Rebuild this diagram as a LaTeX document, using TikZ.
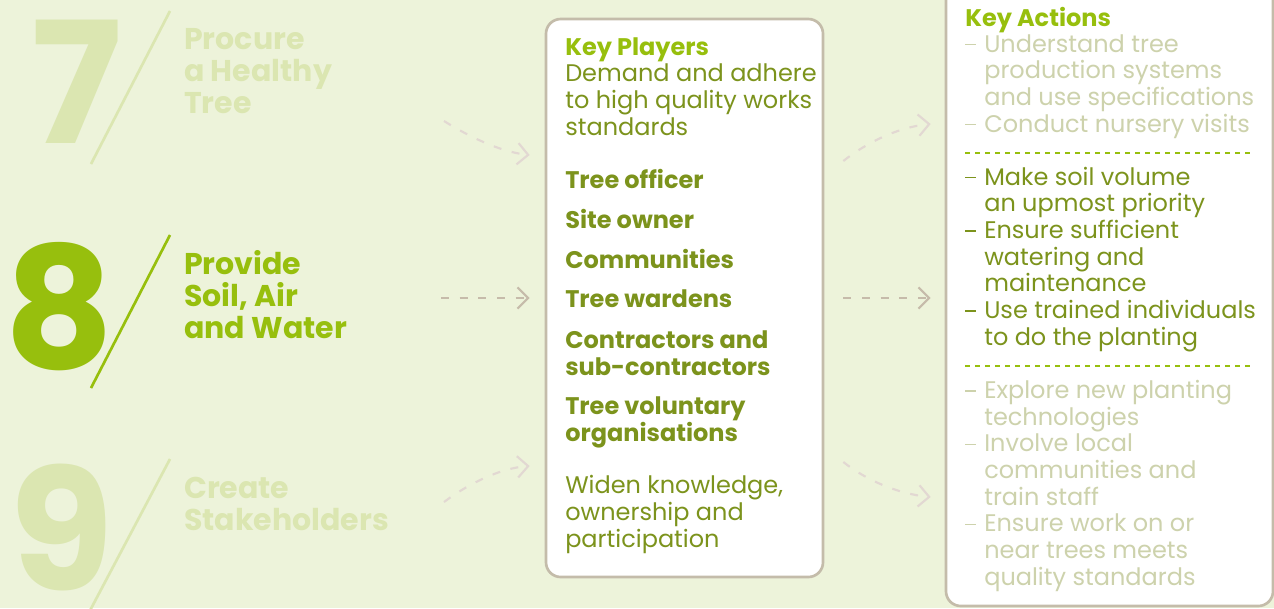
\documentclass[tikz,border=0pt]{standalone}
\usepackage{fontspec}
\setmainfont{Poppins}
\usetikzlibrary{arrows.meta}

\definecolor{bgGreen}{RGB}{237,243,218}
\definecolor{paleGreen}{RGB}{219,230,177}
\definecolor{brightGreen}{RGB}{151,191,13}
\definecolor{oliveText}{RGB}{124,147,28}
\definecolor{paleText}{RGB}{205,210,172}
\definecolor{boxLine}{RGB}{196,188,170}
\definecolor{arrowMid}{RGB}{198,187,170}
\definecolor{arrowPale}{RGB}{226,216,210}

% dash and indent of the action lists
\newcommand{\dsh}{\makebox[14.25pt][l]{\rule[5pt]{8.25pt}{1.1pt}}}
\newcommand{\ind}{\hspace*{14.25pt}}

\begin{document}
\begin{tikzpicture}[x=0.75pt,y=0.75pt,yscale=-1,xscale=1,
    bignum/.style={anchor=base west,inner sep=0pt,text depth=0pt,font=\fontsize{127}{127}\selectfont\bfseries},
    steptitle/.style={anchor=base west,inner sep=0pt,align=left,font=\fontsize{22.5}{24}\selectfont\bfseries},
    body/.style={anchor=base west,inner sep=0pt,align=left,font=\fontsize{18}{20}\selectfont},
    player/.style={body,font=\fontsize{18}{20}\selectfont\bfseries,text=oliveText},
    panel/.style={draw=boxLine,line width=2pt,fill=white,rounded corners=11pt,inner sep=0pt},
    flow/.style={line width=1.6pt,dash pattern=on 6pt off 8pt,-{Straight Barb[length=8pt,width=16pt,line width=1.6pt]}},
    sepline/.style={brightGreen,line width=1.1pt,dash pattern=on 3.75pt off 3.75pt}]

    %Background
    \fill[bgGreen] (0,0) rectangle (1274,608);
    \useasboundingbox (0,0) rectangle (1274,608);

    %Slashes
    \draw[paleGreen,line width=2pt] (170,11) -- (91,164);
    \draw[brightGreen,line width=2pt] (170,235) -- (91,388);
    \draw[paleGreen,line width=2pt] (170,459) -- (85,620);

    % Big numbers
    \node[bignum,text=paleGreen] (n7) at (31,143) {7};
    \node[bignum,text=brightGreen] (n8) at (4,368) {8};
    \node[bignum,text=paleGreen] (n9) at (9,590) {9};

    % Step titles (placed at the baseline of their last line)
    \node[steptitle,text=paleGreen] (title7) at (184,113) {Procure\\a Healthy\\Tree};
    \node[steptitle,text=brightGreen] (title8) at (184,338) {Provide\\Soil, Air\\and Water};
    \node[steptitle,text=paleGreen] (title9) at (184,530) {Create\\Stakeholders};

    %Key players box
    \node[panel,minimum width=207.75pt,minimum height=418.5pt] (players) at (684.5,298) {};
    %Key actions box
    \node[panel,minimum width=245.25pt,minimum height=477pt] (actions) at (1109.5,288) {};

    % Key players text
    \node[body,font=\fontsize{18}{20}\selectfont\bfseries,text=brightGreen] (kpHead) at (565,55) {Key Players};
    \node[body,text=oliveText] (kpText) at (565,135) {Demand and adhere\\to high quality works\\standards};
    \node[player] (officer) at (565,188) {Tree officer};
    \node[player] (owner) at (565,228) {Site owner};
    \node[player] (communities) at (565,268) {Communities};
    \node[player] (wardens) at (565,307) {Tree wardens};
    \node[player] (contractors) at (565,375) {Contractors and\\sub-contractors};
    \node[player] (voluntary) at (565,441) {Tree voluntary\\organisations};
    \node[body,text=oliveText] (widen) at (565,547) {Widen knowledge,\\ownership and\\participation};

    % Key actions text
    \node[body,font=\fontsize{18}{20}\selectfont\bfseries,text=brightGreen] (kaHead) at (965,26) {Key Actions};
    \node[body,text=paleText] (acts7) at (965,132) {\dsh Understand tree\\\ind production systems\\\ind and use specifications\\\dsh Conduct nursery visits};
    \draw[sepline] (965,153) -- (1254,153);
    \node[body,text=oliveText] (acts8) at (965,345) {\dsh Make soil volume\\\ind an upmost priority\\\dsh Ensure sufficient\\\ind watering and\\\ind maintenance\\\dsh Use trained individuals\\\ind to do the planting};
    \draw[sepline] (965,366) -- (1254,366);
    \node[body,text=paleText] (acts9) at (965,585) {\dsh Explore new planting\\\ind technologies\\\dsh Involve local\\\ind communities and\\\ind train staff\\\dsh Ensure work on or\\\ind near trees meets\\\ind quality standards};

    % Arrow ends
    \coordinate (s7) at (444,121);
    \coordinate (s8) at (441,298);
    \coordinate (s9) at (444,502);

    %Arrows into the players box
    \draw[flow,arrowPale] (s7) .. controls (468,136) and (500,152) .. ([xshift=-11.25pt]players.west |- 0,155);
    \draw[flow,arrowMid] (s8) -- ([xshift=-11.25pt]players.west);
    \draw[flow,arrowPale] (s9) .. controls (468,484) and (500,468) .. ([xshift=-11.25pt]players.west |- 0,466);
    %Arrows into the actions box
    \draw[flow,arrowPale] ([xshift=14.25pt]players.east |- 0,161) .. controls (866,143) and (898,127) .. ([xshift=-10.5pt]actions.west |- 0,124);
    \draw[flow,arrowMid] ([xshift=14.25pt]players.east) -- ([xshift=-10.5pt]actions.west |- players.east);
    \draw[flow,arrowPale] ([xshift=14.25pt]players.east |- 0,462) .. controls (866,480) and (898,494) .. ([xshift=-10.5pt]actions.west |- 0,497);
\end{tikzpicture}
\end{document}
